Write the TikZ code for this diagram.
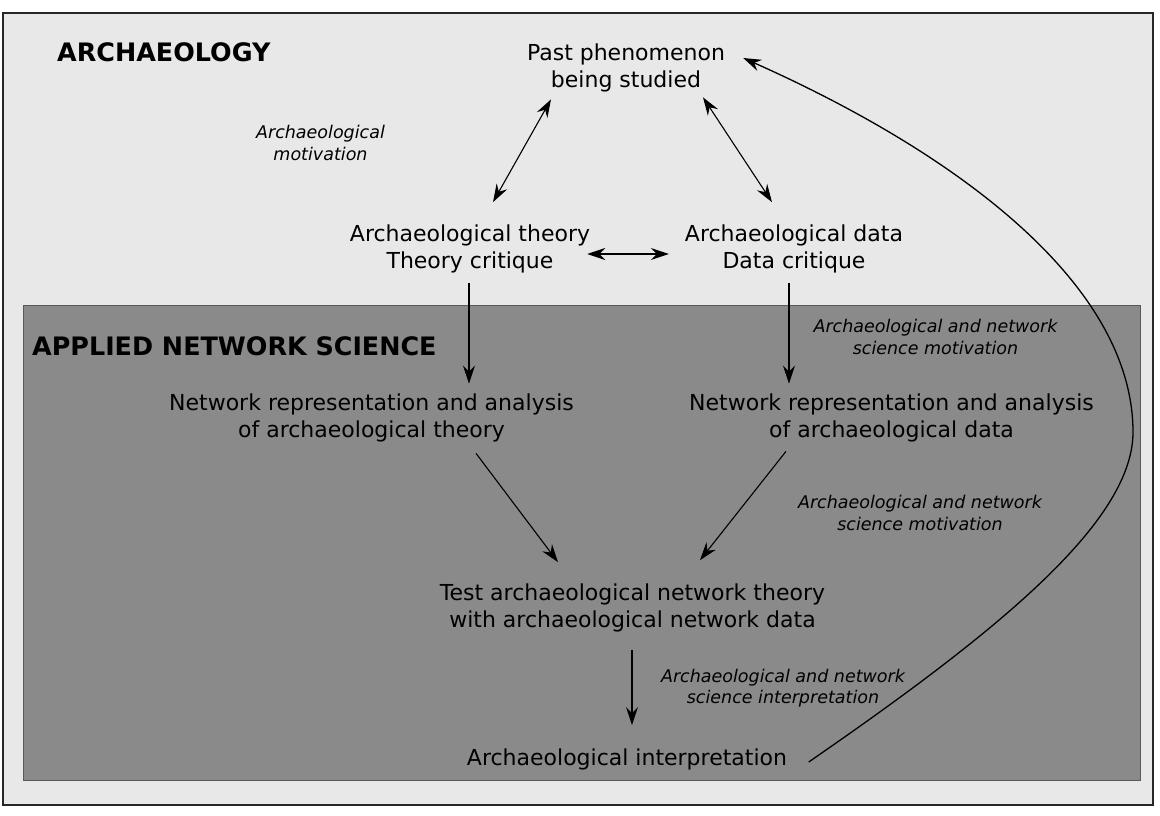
\documentclass[tikz,border=0pt]{standalone}
\usepackage{fontspec}
\setmainfont{DejaVu Sans}
\usetikzlibrary{arrows.meta}

\begin{document}
\begin{tikzpicture}[x=1pt, y=-1pt, >={Stealth[length=18pt, width=12pt, inset=6pt]},
    stage/.style={align=center, inner sep=0pt, font=\fontsize{22}{27}\selectfont},
    note/.style={align=center, inner sep=0pt, font=\fontsize{17.5}{21.5}\selectfont\itshape},
    field/.style={anchor=base west, inner sep=0pt, font=\fontsize{25.4}{30}\selectfont\bfseries},
    link/.style={line width=1.1pt}]

\useasboundingbox (0,0) rectangle (1160,816);

% Background panels
\draw[line width=2.2pt, draw=black!85, fill=black!9] (3,13) rectangle (1153,805);
\draw[line width=1pt, draw=black!65, fill=black!46] (23,305) rectangle (1140,780);

% Field headers
\node[field] (arch) at (57,62) {ARCHAEOLOGY};
\node[field] (ans) at (32,355) {APPLIED NETWORK SCIENCE};

% Archaeology stages
\node[stage] (past) at (626,68) {Past phenomenon\\being studied};
\node[stage] (theory) at (470,248.5) {Archaeological theory\\Theory critique};
\node[stage] (data) at (794,248.5) {Archaeological data\\Data critique};

% Network science stages
\node[stage] (nettheory) at (371.5,418) {Network representation and analysis\\of archaeological theory};
\node[stage] (netdata) at (891.5,418) {Network representation and analysis\\of archaeological data};
\node[stage] (test) at (632.5,607.5) {Test archaeological network theory\\with archaeological network data};
\node[stage] (interp) at (627,759) {Archaeological interpretation};

% Motivation notes
\node[note] (motiv) at (320.5,143) {Archaeological\\motivation};
\node[note] (motiv1) at (935.5,337) {Archaeological and network\\science motivation};
\node[note] (motiv2) at (920,513) {Archaeological and network\\science motivation};
\node[note] (interpnote) at (783,688) {Archaeological and network\\science interpretation};

% Links between stages
\draw[link, <->] ([xshift=-75pt, yshift=-7pt]past.south) -- ([xshift=23pt, yshift=22pt]theory.north);
\draw[link, <->] ([xshift=77pt, yshift=-5pt]past.south) -- ([xshift=-22pt, yshift=22pt]data.north);
\draw[link, <->] ([xshift=-3pt, yshift=-5.5pt]theory.east) -- ([xshift=-16pt, yshift=-5.5pt]data.west);
\draw[link, ->] ([xshift=-1pt, yshift=-10pt]theory.south) -- ([xshift=-1pt, yshift=10pt]theory.south |- nettheory.north);
\draw[link, ->] ([xshift=-5pt, yshift=-10pt]data.south) -- ([xshift=-5pt, yshift=10pt]data.south |- netdata.north);
\draw[link, ->] ([xshift=104.5pt, yshift=-11pt]nettheory.south) -- ([xshift=-74.5pt, yshift=21pt]test.north);
\draw[link, ->] ([xshift=-105.5pt, yshift=-9pt]netdata.south) -- ([xshift=67.5pt, yshift=23pt]test.north);
\draw[link, ->] ([xshift=-0.5pt, yshift=-18pt]test.south) -- ([xshift=-0.5pt, yshift=23pt]test.south |- interp.north);

% Feedback to the past phenomenon
\draw[link, ->, line width=1.3pt] ([xshift=21.5pt, yshift=-3pt]interp.east)
    .. controls (1000,630) and (1135,520) .. (1133,430)
    .. controls (1131,280) and (950,150) .. ([xshift=18pt, yshift=10pt]past.east);

\end{tikzpicture}
\end{document}
